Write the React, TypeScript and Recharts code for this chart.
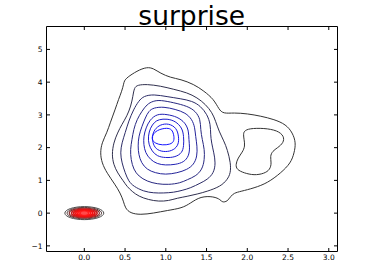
import React from 'react';
import { ComposedChart, Line, XAxis, YAxis } from 'recharts';

type P = [number, number];

const chartTitle = 'surprise';
const xTickValues = [0, 0.5, 1, 1.5, 2, 2.5, 3];
const xTickLabels = ['0.0', '0.5', '1.0', '1.5', '2.0', '2.5', '3.0'];
const yTickValues = [-1, 0, 1, 2, 3, 4, 5];
const yTickLabels = ['\u22121', '0', '1', '2', '3', '4', '5'];

// "surprise" density: outer contour (level 1)
const blueLevel1: P[] = [
  [0.490, 4.038], [0.523, 4.140], [0.646, 4.345], [0.769, 4.467], [0.851, 4.416], [0.933, 4.273],
  [1.057, 4.140], [1.180, 4.089], [1.344, 3.936], [1.467, 3.731], [1.590, 3.475], [1.652, 3.169],
  [1.705, 3.036], [1.837, 3.067], [2.001, 3.036], [2.165, 2.964], [2.330, 2.862], [2.474, 2.709],
  [2.556, 2.454], [2.597, 2.147], [2.576, 1.841], [2.535, 1.534], [2.412, 1.226], [2.248, 0.920],
  [2.083, 0.766], [1.919, 0.664], [1.837, 0.613], [1.796, 0.511], [1.755, 0.357], [1.693, 0.326],
  [1.673, 0.408], [1.590, 0.511], [1.426, 0.511], [1.303, 0.306], [1.200, 0.152], [1.016, 0.081],
  [0.851, -0.001], [0.687, -0.052], [0.564, -0.001], [0.502, 0.152], [0.482, 0.357], [0.441, 0.613],
  [0.379, 0.868], [0.277, 1.226], [0.215, 1.534], [0.195, 1.841], [0.215, 2.147], [0.277, 2.454],
  [0.318, 2.760], [0.379, 3.169], [0.420, 3.475], [0.461, 3.731], [0.482, 3.936],
];
// level 1, island on the right
const blueLevel1b: P[] = [
  [1.960, 2.505], [2.022, 2.587], [2.206, 2.597], [2.371, 2.525], [2.453, 2.351], [2.445, 2.147],
  [2.371, 1.994], [2.309, 1.892], [2.280, 1.738], [2.297, 1.534], [2.280, 1.329], [2.206, 1.206],
  [2.083, 1.154], [1.960, 1.226], [1.870, 1.329], [1.857, 1.483], [1.886, 1.687], [1.940, 1.861],
  [1.973, 2.045], [1.960, 2.249], [1.952, 2.402],
];
const blueLevel2: P[] = [
  [0.654, 3.915], [0.769, 3.936], [0.933, 3.884], [1.098, 3.782], [1.262, 3.680], [1.385, 3.527],
  [1.488, 3.322], [1.570, 3.067], [1.611, 2.811], [1.652, 2.505], [1.714, 2.198], [1.755, 1.943],
  [1.796, 1.534], [1.796, 1.226], [1.755, 1.022], [1.673, 0.817], [1.508, 0.664], [1.385, 0.582],
  [1.262, 0.511], [1.139, 0.459], [1.036, 0.377], [0.913, 0.357], [0.790, 0.408], [0.667, 0.511],
  [0.585, 0.664], [0.523, 0.817], [0.482, 0.971], [0.408, 1.226], [0.359, 1.483], [0.338, 1.790],
  [0.359, 2.147], [0.408, 2.454], [0.461, 2.709], [0.523, 2.964], [0.572, 3.271], [0.597, 3.577],
  [0.613, 3.833],
];
const blueLevel3: P[] = [
  [0.728, 3.577], [0.851, 3.629], [1.016, 3.557], [1.180, 3.496], [1.324, 3.424], [1.426, 3.271],
  [1.508, 3.015], [1.549, 2.709], [1.549, 2.402], [1.561, 2.147], [1.590, 1.841], [1.611, 1.534],
  [1.590, 1.226], [1.508, 1.022], [1.426, 0.920], [1.303, 0.766], [1.200, 0.694], [1.098, 0.633],
  [0.975, 0.613], [0.851, 0.613], [0.728, 0.664], [0.605, 0.817], [0.544, 0.971], [0.502, 1.226],
  [0.461, 1.534], [0.441, 1.841], [0.461, 2.147], [0.502, 2.454], [0.544, 2.811], [0.605, 3.169],
  [0.667, 3.424],
];
const blueLevel4: P[] = [
  [0.843, 3.424], [0.933, 3.455], [1.098, 3.373], [1.262, 3.271], [1.365, 3.118], [1.426, 2.862],
  [1.426, 2.556], [1.447, 2.249], [1.475, 1.943], [1.475, 1.636], [1.447, 1.329], [1.365, 1.124],
  [1.262, 1.022], [1.180, 0.920], [1.036, 0.868], [0.892, 0.889], [0.769, 0.971], [0.667, 1.124],
  [0.605, 1.329], [0.572, 1.636], [0.564, 1.943], [0.585, 2.249], [0.605, 2.556], [0.646, 2.862],
  [0.708, 3.118], [0.769, 3.322],
];
const blueLevel5: P[] = [
  [0.851, 3.220], [0.975, 3.250], [1.118, 3.169], [1.241, 3.067], [1.324, 2.862], [1.357, 2.607],
  [1.365, 2.351], [1.385, 2.045], [1.385, 1.738], [1.344, 1.483], [1.262, 1.329], [1.139, 1.226],
  [0.995, 1.175], [0.872, 1.226], [0.769, 1.329], [0.699, 1.534], [0.667, 1.790], [0.658, 2.045],
  [0.667, 2.351], [0.708, 2.658], [0.749, 2.913], [0.790, 3.118],
];
const blueLevel6: P[] = [
  [0.892, 3.036], [1.016, 3.015], [1.139, 2.944], [1.241, 2.760], [1.282, 2.505], [1.282, 2.249],
  [1.295, 1.994], [1.282, 1.738], [1.221, 1.554], [1.118, 1.483], [0.995, 1.462], [0.892, 1.503],
  [0.810, 1.636], [0.749, 1.841], [0.728, 2.096], [0.728, 2.351], [0.757, 2.607], [0.802, 2.842],
];
const blueLevel7: P[] = [
  [0.913, 2.862], [1.016, 2.883], [1.118, 2.811], [1.200, 2.607], [1.221, 2.351], [1.221, 2.045],
  [1.200, 1.841], [1.118, 1.708], [0.995, 1.687], [0.892, 1.738], [0.831, 1.892], [0.790, 2.096],
  [0.782, 2.351], [0.810, 2.607], [0.860, 2.780],
];
const blueLevel8: P[] = [
  [0.933, 2.709], [1.036, 2.740], [1.131, 2.607], [1.159, 2.351], [1.159, 2.096], [1.098, 1.922],
  [0.995, 1.861], [0.892, 1.922], [0.843, 2.096], [0.831, 2.351], [0.860, 2.556],
];
const blueLevel9: P[] = [
  [0.913, 2.556], [1.016, 2.607], [1.077, 2.556], [1.098, 2.402], [1.106, 2.198], [1.057, 2.096],
  [0.954, 2.075], [0.872, 2.126], [0.823, 2.249], [0.843, 2.433],
];

// neutral density near the origin: tight rings
const redLevel1: P[] = [[0.265, 0], [0.187, 0.156], [0, 0.22], [-0.187, 0.156], [-0.265, 0], [-0.187, -0.156], [0, -0.22], [0.187, -0.156]];
const redLevel2: P[] = [[0.235, 0], [0.166, 0.136], [0, 0.193], [-0.166, 0.136], [-0.235, 0], [-0.166, -0.136], [0, -0.193], [0.166, -0.136]];
const redLevel3: P[] = [[0.205, 0], [0.145, 0.117], [0, 0.166], [-0.145, 0.117], [-0.205, 0], [-0.145, -0.117], [0, -0.166], [0.145, -0.117]];
const redLevel4: P[] = [[0.175, 0], [0.124, 0.098], [0, 0.139], [-0.124, 0.098], [-0.175, 0], [-0.124, -0.098], [0, -0.139], [0.124, -0.098]];
const redLevel5: P[] = [[0.145, 0], [0.103, 0.08], [0, 0.113], [-0.103, 0.08], [-0.145, 0], [-0.103, -0.08], [0, -0.113], [0.103, -0.08]];
const redLevel6: P[] = [[0.118, 0], [0.083, 0.065], [0, 0.092], [-0.083, 0.065], [-0.118, 0], [-0.083, -0.065], [0, -0.092], [0.083, -0.065]];
const redLevel7: P[] = [[0.09, 0], [0.064, 0.05], [0, 0.071], [-0.064, 0.05], [-0.09, 0], [-0.064, -0.05], [0, -0.071], [0.064, -0.05]];
const redLevel8: P[] = [[0.062, 0], [0.044, 0.035], [0, 0.05], [-0.044, 0.035], [-0.062, 0], [-0.044, -0.035], [0, -0.05], [0.044, -0.035]];
const redLevel9: P[] = [[0.034, 0], [0.024, 0.02], [0, 0.028], [-0.024, 0.02], [-0.034, 0], [-0.024, -0.02], [0, -0.028], [0.024, -0.02]];

const blueContours = [blueLevel1, blueLevel1b, blueLevel2, blueLevel3, blueLevel4, blueLevel5, blueLevel6, blueLevel7, blueLevel8, blueLevel9];
const redContours = [redLevel1, redLevel2, redLevel3, redLevel4, redLevel5, redLevel6, redLevel7, redLevel8, redLevel9];

// styles
const blueColors = ['#333333', '#333333', '#2f2f4d', '#2b2b66', '#272780', '#242499', '#2020b3', '#1c1ccc', '#1818e6', '#1414ff'];
const redColors = ['#4a4a4a', '#5a4040', '#883030', '#c02020', '#e01414', '#f01010', '#ff1414', '#ff2020', '#ff4a4a'];
const redWidths = [1, 1, 1.2, 1.6, 1.8, 1.8, 1.8, 1.8, 1.8];

const FONT = '"DejaVu Sans", "Bitstream Vera Sans", sans-serif';
const TICK = 3.5;
const W = 374;
const H = 280;
const X_DOMAIN: [number, number] = [-0.464, 3.107];
const Y_DOMAIN: [number, number] = [-1.172, 5.7];

const toPts = (arr: P[]) => arr.map(([x, y]) => ({ x, y }));

const BottomTick = (props: any) => {
  const { x, y, payload } = props;
  const i = xTickValues.indexOf(payload.value);
  return (
    <g>
      <line x1={x} y1={y} x2={x} y2={y - TICK} stroke="#000" strokeWidth={1} />
      <text x={x} y={y + 8.8} textAnchor="middle" fontSize={7.5} fontFamily={FONT} fill="#000">
        {i >= 0 ? xTickLabels[i] : ''}
      </text>
    </g>
  );
};
const TopTick = (props: any) => {
  const { x, y } = props;
  return <line x1={x} y1={y} x2={x} y2={y + TICK} stroke="#000" strokeWidth={1} />;
};
const LeftTick = (props: any) => {
  const { x, y, payload } = props;
  const i = yTickValues.indexOf(payload.value);
  return (
    <g>
      <line x1={x} y1={y} x2={x + TICK} y2={y} stroke="#000" strokeWidth={1} />
      <text x={x - 4} y={y + 2.7} textAnchor="end" fontSize={7.5} fontFamily={FONT} fill="#000">
        {i >= 0 ? yTickLabels[i] : ''}
      </text>
    </g>
  );
};
const RightTick = (props: any) => {
  const { x, y } = props;
  return <line x1={x} y1={y} x2={x - TICK} y2={y} stroke="#000" strokeWidth={1} />;
};

export default function App() {
  return (
    <div style={{ position: 'absolute', left: 0, top: 0, width: W, height: H, background: '#fff' }}>
      <div
        style={{
          position: 'absolute',
          left: 0,
          width: 383.4,
          top: 2.6,
          textAlign: 'center',
          fontFamily: FONT,
          fontSize: 26.5,
          lineHeight: 1,
          color: '#000',
          whiteSpace: 'nowrap',
        }}
      >
        {chartTitle}
      </div>
      <ComposedChart width={W} height={H} margin={{ top: 26.5, right: 36.5, bottom: 0, left: 0 }}>
        <XAxis
          xAxisId="bottom"
          type="number"
          dataKey="x"
          domain={X_DOMAIN}
          allowDataOverflow
          ticks={xTickValues}
          interval={0}
          height={28.5}
          tickSize={0}
          tickMargin={0}
          tick={<BottomTick />}
          axisLine={{ stroke: '#000', strokeWidth: 1 }}
          tickLine={false}
        />
        <XAxis
          xAxisId="top"
          orientation="top"
          type="number"
          dataKey="x"
          domain={X_DOMAIN}
          allowDataOverflow
          ticks={xTickValues}
          interval={0}
          height={1}
          mirror
          tickSize={0}
          tickMargin={0}
          tick={<TopTick />}
          axisLine={{ stroke: '#000', strokeWidth: 1 }}
          tickLine={false}
        />
        <YAxis
          yAxisId="left"
          type="number"
          dataKey="y"
          domain={Y_DOMAIN}
          allowDataOverflow
          ticks={yTickValues}
          interval={0}
          width={46.5}
          tickSize={0}
          tickMargin={0}
          tick={<LeftTick />}
          axisLine={{ stroke: '#000', strokeWidth: 1 }}
          tickLine={false}
        />
        <YAxis
          yAxisId="right"
          orientation="right"
          type="number"
          dataKey="y"
          domain={Y_DOMAIN}
          allowDataOverflow
          ticks={yTickValues}
          interval={0}
          width={1}
          mirror
          tickSize={0}
          tickMargin={0}
          tick={<RightTick />}
          axisLine={{ stroke: '#000', strokeWidth: 1 }}
          tickLine={false}
        />
        {blueContours.map((c, i) => (
          <Line
            key={`b${i}`}
            data={toPts(c)}
            dataKey="y"
            xAxisId="bottom"
            yAxisId="left"
            type="basisClosed"
            stroke={blueColors[i]}
            strokeWidth={1}
            dot={false}
            activeDot={false}
            legendType="none"
            isAnimationActive={false}
          />
        ))}
        {redContours.map((c, i) => (
          <Line
            key={`r${i}`}
            data={toPts(c)}
            dataKey="y"
            xAxisId="bottom"
            yAxisId="left"
            type="basisClosed"
            stroke={redColors[i]}
            strokeWidth={redWidths[i]}
            dot={false}
            activeDot={false}
            legendType="none"
            isAnimationActive={false}
          />
        ))}
      </ComposedChart>
    </div>
  );
}
